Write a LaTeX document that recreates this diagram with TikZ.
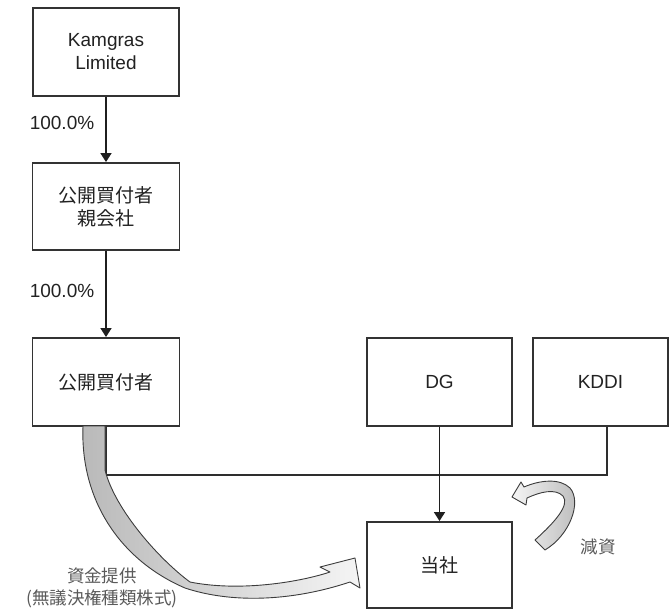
\documentclass[tikz,border=0pt]{standalone}
\usepackage{fontspec}
\setmainfont{Liberation Sans}
\newfontfamily\jp{Noto Sans CJK JP}
\usetikzlibrary{arrows.meta,calc}
\definecolor{boxline}{HTML}{333333}
\definecolor{txt}{HTML}{222222}
\definecolor{lbl}{HTML}{5A5A5A}
\definecolor{ribline}{HTML}{3C3C3C}
\begin{document}
\begin{tikzpicture}[x=1pt,y=-1pt,
  ent/.style={draw=boxline,line width=1.9pt,fill=white,inner sep=0pt,
    text=txt,align=center,font=\fontsize{19}{23}\selectfont},
  arr/.style={draw=black!88,line width=1.6pt,-{Triangle[length=9pt,width=11pt]}},
  conn/.style={draw=black!82,line width=1.6pt},
  pct/.style={text=txt,font=\fontsize{19}{23}\selectfont},
  note/.style={text=lbl,align=center,font=\jp\fontsize{17.5}{22}\selectfont},
  ribbon/.style={draw=ribline,line width=0.9pt,line join=round}]
\useasboundingbox (0,0) rectangle (670,614);
\node[ent,minimum width=146pt,minimum height=88pt] (kam) at (106,52) {Kamgras\\Limited};
\node[ent,minimum width=147pt,minimum height=87pt] (par) at (106,206.5) {\jp 公開買付者\\\jp 親会社};
\node[ent,minimum width=147pt,minimum height=88pt] (off) at (106,382) {\jp 公開買付者};
\node[ent,minimum width=145pt,minimum height=88pt] (dg) at (439.5,382) {DG};
\node[ent,minimum width=135pt,minimum height=88pt] (kddi) at (600.5,382) {KDDI};
\node[ent,minimum width=145pt,minimum height=86pt] (co) at (439.5,565) {\jp 当社};
\draw[arr] (kam) -- (par);
\draw[arr] (par) -- (off);
\node[pct] (p1) at (62,123) {100.0\%};
\node[pct] (p2) at (62,291) {100.0\%};
\coordinate (kd) at ($(kddi.south)+(6.5,0)$);
\draw[conn] (off.south) |- ($(kd)+(0,48)$) -- (kd);
\draw[arr] (dg) -- (co);
% big ribbon arrow (funding)
\path[ribbon,left color=gray!55,right color=gray!8]
  (83,426) .. controls (80,500) and (120,560) .. (185,588)
  .. controls (230,603) and (290,602) .. (350,582)
  -- (360,588) -- (355,558) -- (320,567) -- (330,572)
  .. controls (300,582) and (240,592) .. (190,582)
  .. controls (160,560) and (115,510) .. (105,470)
  -- (105,426) -- cycle;
% small ribbon arrow (capital reduction)
\path[ribbon,left color=gray!8,right color=gray!55]
  (535,540) .. controls (555,522) and (570,505) .. (563,496)
  .. controls (555,488) and (540,492) .. (527,498)
  -- (526,505) -- (512,497) -- (521,482) -- (524,487)
  .. controls (540,480) and (560,478) .. (570,488)
  .. controls (582,502) and (570,535) .. (545,550) -- cycle;
\node[note] (fund) at (102,588) {資金提供\\(無議決権種類株式)};
\node[note] (red) at (598,547) {減資};
\end{tikzpicture}
\end{document}
